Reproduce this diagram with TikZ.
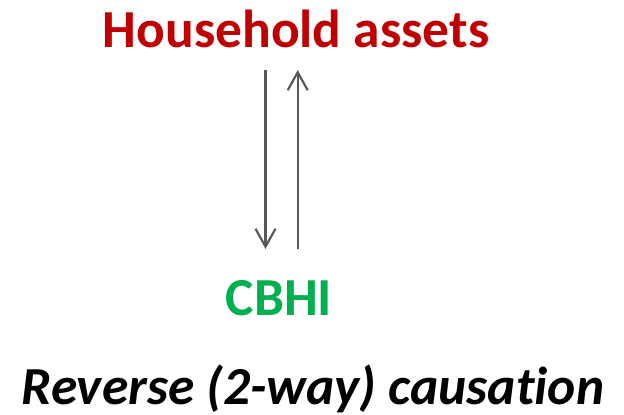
\documentclass[tikz,border=0pt]{standalone}
\usepackage{fontspec}
\setmainfont{Carlito}[Ligatures={NoCommon,NoRare,NoContextual}]
\usetikzlibrary{arrows.meta}
\definecolor{assetred}{HTML}{C00000}
\definecolor{cbhigreen}{HTML}{00B050}
\definecolor{arrowgray}{HTML}{595959}
\begin{document}
\begin{tikzpicture}[x=1pt,y=-1pt,
        label/.style={inner sep=0pt,anchor=base,font=\fontsize{53.5}{60}\selectfont\bfseries},
        causal/.style={arrowgray,line width=2.4pt,-{Straight Barb[length=18pt,width=20pt,line width=2.2pt]}}]
        \useasboundingbox (0,0) rectangle (624,415);

        % variables
        \node[label,text=assetred] (assets) at (296,47) {Household assets};
        \node[label,text=cbhigreen] (cbhi) at (279,315) {CBHI};

        % caption
        \node[label,font=\fontsize{53.5}{60}\selectfont\bfseries\itshape] (caption) at (313,404) {Reverse (2-way) causat\kern0pt ion};

        % arrow ends
        \coordinate (downtop) at (265.5,70);
        \coordinate (downend) at (265.5,249);
        \coordinate (upbottom) at (297.7,249);
        \coordinate (uptop) at (297.7,70);

        % two-way arrows
        \draw[causal] (downtop) -- (downend);
        \draw[causal] (upbottom) -- (uptop);
\end{tikzpicture}
\end{document}
